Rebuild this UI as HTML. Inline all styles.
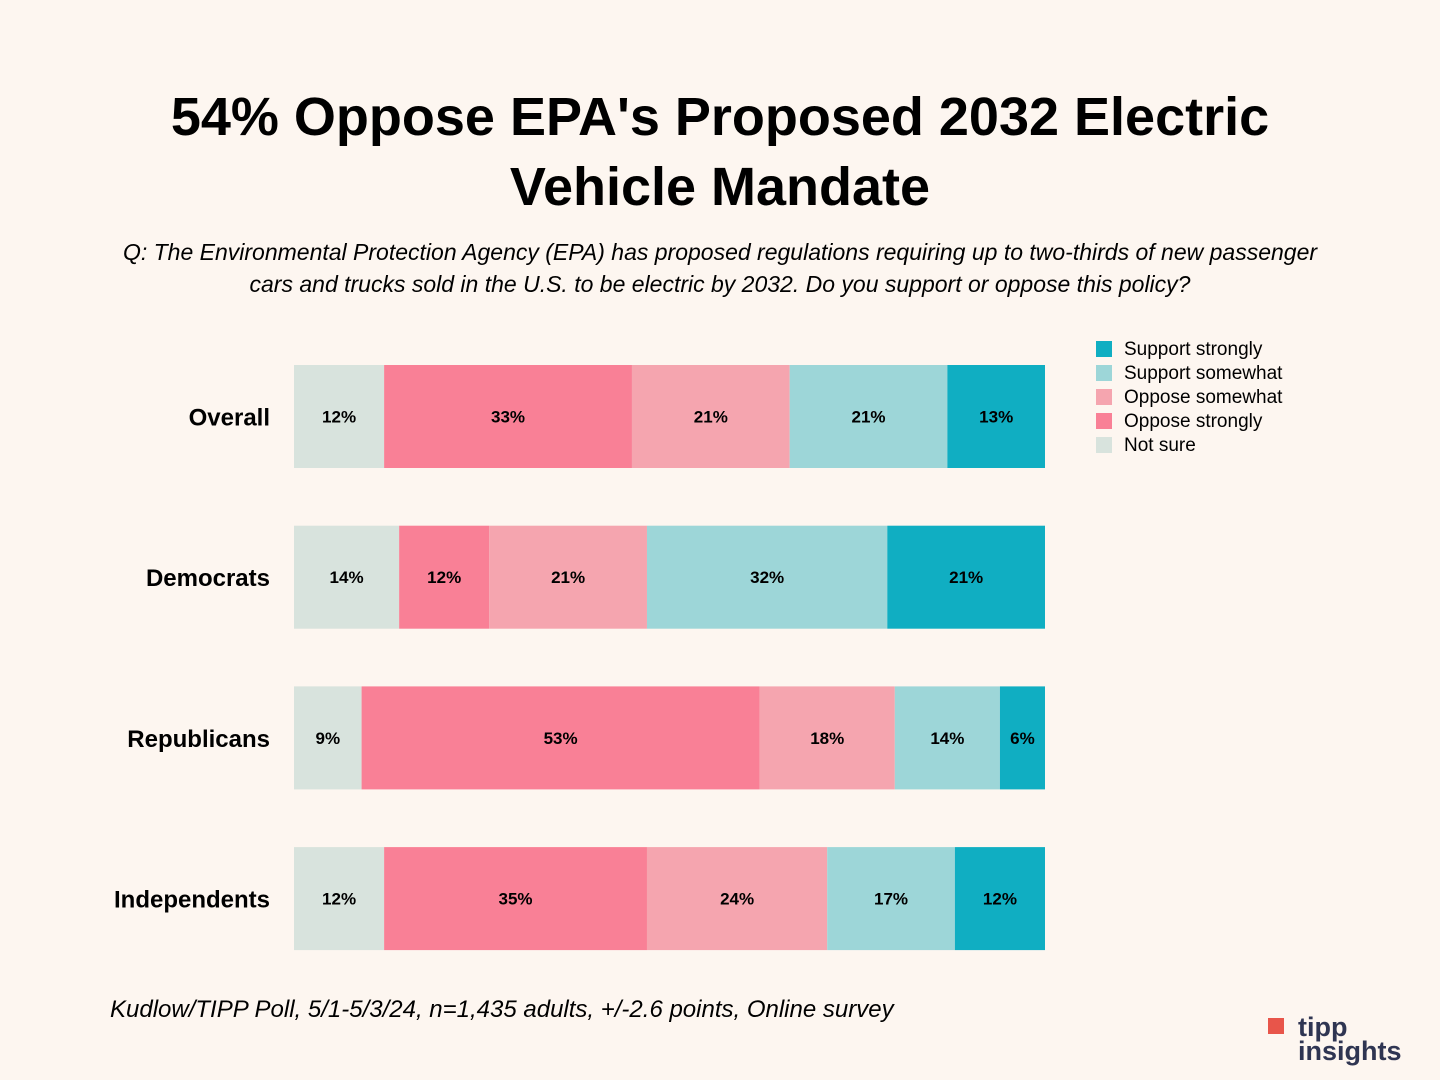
<!DOCTYPE html>
<html><head><meta charset="utf-8"><style>
body{margin:0;width:1440px;height:1080px;background:#fdf6f0;font-family:"Liberation Sans",sans-serif;overflow:hidden;position:relative}
.t{position:absolute;left:0;width:1440px;text-align:center;font-weight:bold;font-size:54px;line-height:70px;top:82px;color:#000}
.q{position:absolute;left:0;width:1440px;text-align:center;font-style:italic;font-size:23px;line-height:32px;top:236px;white-space:nowrap}
.src{position:absolute;left:110px;top:996px;font-style:italic;font-size:24px}
</style></head><body>
<div class="t">54% Oppose EPA's Proposed 2032 Electric<br>Vehicle Mandate</div>
<div class="q">Q: The Environmental Protection Agency (EPA) has proposed regulations requiring up to two-thirds of new passenger<br>cars and trucks sold in the U.S. to be electric by 2032. Do you support or oppose this policy?</div>
<svg id="c" width="1440" height="1080" style="position:absolute;left:0;top:0"></svg>
<div class="src">Kudlow/TIPP Poll, 5/1-5/3/24, n=1,435 adults, +/-2.6 points, Online survey</div>
<div style="position:absolute;left:1258px;top:1014px;width:160px;height:55px">
<div style="position:absolute;left:10px;top:4px;width:16px;height:16px;background:#e8554a"></div>
<div style="position:absolute;left:40px;top:0px;font-weight:bold;font-size:27px;color:#2f3552;line-height:26px">tipp</div>
<div style="position:absolute;left:40px;top:24px;font-weight:bold;font-size:27px;color:#2f3552;line-height:26px">insights</div>
</div>
<script>
const groups=["Overall","Democrats","Republicans","Independents"];
const seriesNames=["Not sure","Oppose strongly","Oppose somewhat","Support somewhat","Support strongly"];
const notSure=[12,14,9,12];
const opposeStrongly=[33,12,53,35];
const opposeSomewhat=[21,21,18,24];
const supportSomewhat=[21,32,14,17];
const supportStrongly=[13,21,6,12];
const colors=["#d8e3dd","#f98096","#f5a5af","#9dd6d8","#10aec2"];
const svg=document.getElementById('c');const NS="http://www.w3.org/2000/svg";
const x0=294,x1=1045,y0=365,pitch=160.7,bh=103;
function xs(v,tot){return (x1-x0)*v/tot;}
function el(t,a){const e=document.createElementNS(NS,t);for(const k in a)e.setAttribute(k,a[k]);svg.appendChild(e);return e;}
const series=[notSure,opposeStrongly,opposeSomewhat,supportSomewhat,supportStrongly];
groups.forEach((g,i)=>{
 const y=y0+i*pitch;
 const lab=el('text',{x:270,y:y+bh/2+9,'text-anchor':'end','font-size':24,'font-weight':'bold','font-family':'Liberation Sans,sans-serif'});
 lab.textContent=g;
 
 
 const tot=series.reduce((s,a)=>s+a[i],0);
 let cx=x0;
 series.forEach((s,j)=>{
  const w=xs(s[i],tot);
  const r=el('rect',{x:cx,y:y,width:w,height:bh,fill:colors[j]});
  
  
  const t=el('text',{x:cx+w/2,y:y+bh/2+6,'text-anchor':'middle','font-size':17,'font-weight':'bold','font-family':'Liberation Sans,sans-serif'});
  t.textContent=s[i]+'%';
  
  
  cx+=w;
 });
});
const legOrder=[4,3,2,1,0];
legOrder.forEach((j,k)=>{
 const y=341+k*24;
 const r=el('rect',{x:1096,y:y,width:16,height:16,fill:colors[j]});
 
 
 const t=el('text',{x:1124,y:y+14,'font-size':19,'font-family':'Liberation Sans,sans-serif'});
 t.textContent=seriesNames[j];
 
 
});
</script>
</body></html>
